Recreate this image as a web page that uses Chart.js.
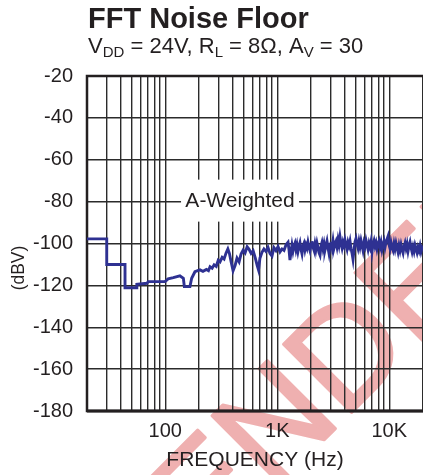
<!DOCTYPE html>
<html>
<head>
<meta charset="utf-8">
<script src="https://cdn.jsdelivr.net/npm/chart.js@4/dist/chart.umd.min.js"></script>
<style>
  html, body { margin: 0; padding: 0; background: #fff; }
</style>
</head>
<body>
<canvas id="fftChart" width="423" height="475"></canvas>
<script>
// trace (Hz, dBV)
var freqs = [
  20, 30, 30, 43.7, 43.7, 55, 55.7, 68.5, 70.4, 99.5,
  106, 118, 135, 145, 148, 166, 172, 184, 204,
  217, 233, 243, 251, 262, 273, 285, 297, 308, 322,
  335, 349, 362, 374, 387, 403, 420, 437, 456, 475,
  495, 516, 538, 560, 584, 609, 634, 661, 680, 700,
  730, 760, 792, 826, 861, 897, 934, 974, 1015, 1058,
  1102, 1148, 1197, 1247, 1273,
  1298, 1325, 1353, 1381, 1409, 1439, 1469, 1499, 1530, 1562,
  1595, 1628, 1662, 1696, 1731, 1767, 1804, 1842, 1880, 1919,
  1959, 2000, 2041, 2084, 2127, 2171, 2216, 2262, 2309, 2357,
  2406, 2456, 2507, 2559, 2613, 2667, 2722, 2779, 2837, 2896,
  2956, 3017, 3080, 3144, 3209, 3276, 3344, 3414, 3485, 3557,
  3631, 3707, 3784, 3862, 3942, 4024, 4108, 4193, 4280, 4369,
  4460, 4553, 4648, 4744, 4843, 4944, 5046, 5151, 5258, 5367,
  5479, 5593, 5709, 5828, 5949, 6073, 6199, 6328, 6459, 6594,
  6731, 6871, 7013, 7159, 7308, 7460, 7615, 7773, 7935, 8100,
  8268, 8440, 8616, 8795, 8978, 9164, 9355, 9549, 9748, 9950,
  10157, 10368, 10584, 10803, 11028, 11257, 11491, 11730, 11973, 12222,
  12476, 12735, 13000, 13270, 13546, 13827, 14115, 14408, 14708, 15013,
  15325, 15643, 15969, 16300, 16639, 16985, 17338, 17698, 18066, 18441,
  18825, 19216, 19615, 20000
];
var levels = [
  -97.8, -97.8, -110, -110, -121.1, -121.1, -119.5, -119.0, -118.2, -118.2,
  -116.9, -116.3, -115.4, -116.6, -120.6, -120.6, -116.6, -113.5, -112.6,
  -113.3, -112.4, -113.0, -111.1, -111.8, -110.2, -110.9, -108.0, -108.8, -106.6,
  -107.4, -104.5, -102.6, -104.8, -108.7, -113.0, -110.5, -107.0, -108.8, -105.0,
  -103.2, -104.5, -101.6, -102.8, -104.7, -103.5, -106.6, -110.4, -112.6, -107.0,
  -104.2, -102.6, -103.8, -101.9, -104.8, -106.0, -102.0, -103.4, -101.5, -104.0,
  -102.6, -103.3, -100.6, -99.4, -103.0,
  -107.9, -104.2, -100.8, -103.6, -101.2, -99.8, -102.9, -100.6, -103.8, -101.4,
  -99.6, -102.7, -104.9, -101.1, -99.9, -103.0, -100.7, -102.2, -99.4, -101.8,
  -103.5, -100.3, -98.9, -101.7, -103.2, -100.1, -102.6, -99.7, -101.9, -104.4,
  -105.6, -101.3, -99.5, -102.4, -100.0, -103.1, -100.9, -98.8, -102.0, -104.7,
  -100.6, -99.2, -101.8, -98.6, -102.3, -100.4, -99.0, -101.6, -98.2, -100.7,
  -96.8, -99.9, -102.1, -99.3, -101.0, -98.4, -100.8, -102.7, -99.5, -101.2,
  -98.9, -102.4, -104.6, -107.6, -103.0, -99.2, -97.6, -100.3, -102.2, -99.0,
  -101.5, -98.6, -100.9, -103.3, -99.7, -101.4, -98.5, -100.6, -102.8, -99.9,
  -101.7, -99.1, -103.9, -100.4, -98.7, -101.3, -99.6, -102.5, -100.2, -98.8,
  -101.6, -99.4, -102.9, -100.7, -98.9, -101.8, -99.3, -97.9, -96.5, -100.6,
  -102.4, -99.5, -101.7, -103.2, -100.1, -102.6, -99.8, -101.9, -104.1, -101.0,
  -103.3, -100.6, -102.8, -104.5, -101.4, -99.7, -102.3, -100.2, -103.6, -101.1,
  -99.3, -102.0, -104.0, -101.6, -103.7, -100.8, -102.5, -104.3, -101.9, -103.5,
  -101.2, -103.9, -102.1, -103.0
];

// vertical grid positions and the labelled decades
var gridFreqs = [20, 30, 40, 50, 60, 70, 80, 90,
  100, 200, 300, 400, 500, 600, 700, 800, 900,
  1000, 2000, 3000, 4000, 5000, 6000, 7000, 8000, 9000,
  10000, 20000];
var xTickText = { 100: '100', 1000: '1K', 10000: '10K' };
var yMin = -180, yMax = -20, yStep = 20;

var FONT = "'Liberation Sans', Arial, sans-serif";
var INK = '#231f20';

var points = freqs.map(function(f, i) { return { x: f, y: levels[i] }; });

// big pink watermark behind everything
var watermark = {
  id: 'watermark',
  beforeDraw: function(chart) {
    var ctx = chart.ctx;
    ctx.save();
    ctx.fillStyle = '#fff';
    ctx.fillRect(0, 0, chart.width, chart.height);
    ctx.font = '140px ' + FONT;
    ctx.fillStyle = '#efb0b0';
    ctx.strokeStyle = '#efb0b0';
    ctx.lineWidth = 3;
    ctx.lineJoin = 'round';
    ctx.translate(272, 492);
    ctx.rotate(-Math.PI / 4);
    var pre = ctx.measureText('ME').width;
    ctx.fillText('MENDED', -pre, 0);
    ctx.strokeText('MENDED', -pre, 0);
    ctx.restore();
  }
};

var frame = {
  id: 'frame',
  beforeDatasetsDraw: function(chart) {
    var a = chart.chartArea, ctx = chart.ctx;
    var xs = chart.scales.x, ys = chart.scales.y;
    ctx.save();
    // A-Weighted label box knocks out the grid
    var cx = xs.getPixelForValue(465), cy = ys.getPixelForValue(-80);
    ctx.fillStyle = '#fff';
    ctx.fillRect(cx - 59, cy - 22, 118, 42);
    ctx.fillStyle = INK;
    ctx.font = '21px ' + FONT;
    ctx.textAlign = 'center';
    ctx.textBaseline = 'middle';
    ctx.fillText('A-Weighted', cx, cy);
    // frame
    ctx.strokeStyle = '#231f20';
    ctx.lineWidth = 2.5;
    ctx.beginPath();
    ctx.moveTo(a.right + 2, a.top);
    ctx.lineTo(a.left, a.top);
    ctx.lineTo(a.left, a.bottom);
    ctx.lineTo(a.right + 2, a.bottom);
    ctx.stroke();
    ctx.lineWidth = 3;
    ctx.beginPath();
    ctx.moveTo(a.left, a.bottom);
    ctx.lineTo(a.right + 2, a.bottom);
    ctx.stroke();
    ctx.restore();
  }
};

var labels = {
  id: 'labels',
  afterDraw: function(chart) {
    var ctx = chart.ctx;
    ctx.save();
    ctx.fillStyle = INK;
    ctx.textBaseline = 'alphabetic';
    ctx.textAlign = 'left';
    ctx.font = 'bold 29px ' + FONT;
    ctx.fillText('FFT Noise Floor', 88, 28);

    // subtitle with subscripts
    var parts = [['V', 0], ['DD', 1], [' = 24V, R', 0], ['L', 1], [' = 8\u03A9, A', 0], ['V', 1], [' = 30', 0]];
    var x = 88;
    parts.forEach(function(p) {
      ctx.font = (p[1] ? '15px ' : '22px ') + FONT;
      ctx.fillText(p[0], x, p[1] ? 57 : 53);
      x += ctx.measureText(p[0]).width;
    });

    ctx.font = '21px ' + FONT;
    ctx.textAlign = 'center';
    ctx.fillText('FREQUENCY (Hz)', 255, 466);

    ctx.translate(24, 268);
    ctx.rotate(-Math.PI / 2);
    ctx.font = '17.5px ' + FONT;
    ctx.fillText('(dBV)', 0, 0);
    ctx.restore();
  }
};

new Chart(document.getElementById('fftChart').getContext('2d'), {
  type: 'line',
  data: {
    datasets: [{
      data: points,
      borderColor: '#2e3192',
      borderWidth: 2.9,
      pointRadius: 0,
      tension: 0,
      fill: false
    }]
  },
  options: {
    responsive: false,
    animation: false,
    layout: { padding: { top: 76, right: 0, bottom: 0, left: 0 } },
    plugins: { legend: { display: false }, tooltip: { enabled: false }, title: { display: false } },
    scales: {
      x: {
        type: 'logarithmic',
        min: 20,
        max: 20000,
        afterBuildTicks: function(scale) {
          scale.ticks = gridFreqs.map(function(v) { return { value: v }; });
        },
        afterFit: function(scale) {
          scale.height = 64;
          scale.paddingLeft = 0;
          scale.paddingRight = 0;
        },
        ticks: {
          autoSkip: false,
          maxRotation: 0,
          padding: 8,
          color: INK,
          font: { family: FONT, size: 20 },
          callback: function(v) { return xTickText[v] || ''; }
        },
        grid: { color: '#2b2b2b', lineWidth: 1.4, drawTicks: false },
        border: { display: false }
      },
      y: {
        min: yMin,
        max: yMax,
        afterFit: function(scale) { scale.width = 87; },
        ticks: {
          stepSize: yStep,
          padding: 14,
          color: INK,
          font: { family: FONT, size: 20 }
        },
        grid: { color: '#2b2b2b', lineWidth: 1.4, drawTicks: false },
        border: { display: false }
      }
    }
  },
  plugins: [watermark, frame, labels]
});
</script>
</body>
</html>
